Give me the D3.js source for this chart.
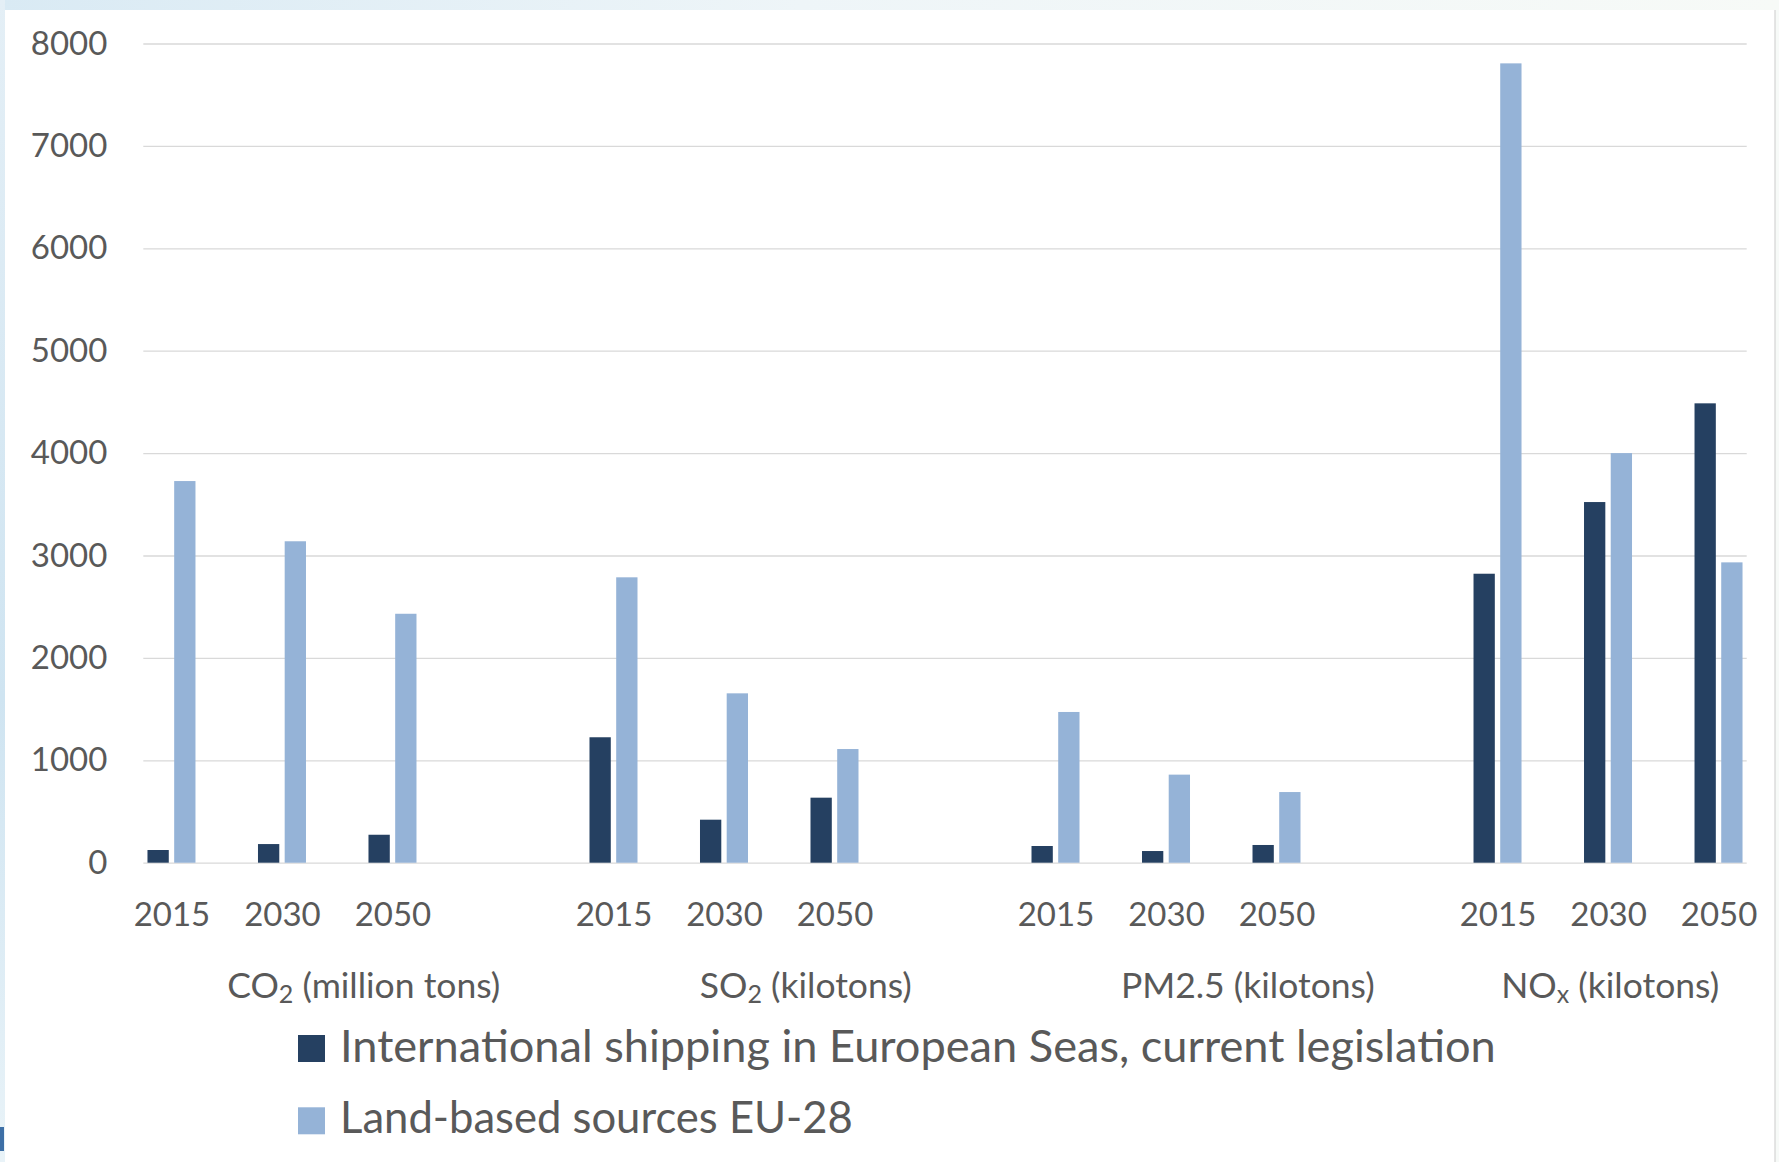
<!DOCTYPE html>
<html>
<head>
<meta charset="utf-8">
<script src="https://cdn.jsdelivr.net/npm/d3@7"></script>
<style>
  body { margin: 0; background: #ffffff; }
  svg { display: block; }
  text { font-family: Lato, "Open Sans", sans-serif; fill: #595959; }
</style>
</head>
<body>
<svg id="chart" width="1779" height="1162"></svg>
<script>
// Emission categories and projection years
const groups = ["CO2", "SO2", "PM2.5", "NOx"];
const groupLabels = ["CO_{2} (million tons)", "SO_{2} (kilotons)", "PM2.5 (kilotons)", "NO_{x} (kilotons)"];
const years = ["2015", "2030", "2050"];

// Values ordered group by group, year by year
const shipping = [124, 182, 273, 1225, 420, 635, 163, 114, 173, 2822, 3522, 4486];
const landBased = [3727, 3139, 2431, 2787, 1654, 1110, 1472, 860, 690, 7806, 4000, 2933];

const seriesNames = [
  "International shipping in European Seas, current legislation",
  "Land-based sources EU-28"
];
const seriesColors = ["#254061", "#95B3D7"];
const yTicks = [0, 1000, 2000, 3000, 4000, 5000, 6000, 7000, 8000];

const svg = d3.select("#chart");

// Slide backdrop edges
const defs = svg.append("defs");
const topGrad = defs.append("linearGradient").attr("id", "topGrad");
topGrad.append("stop").attr("offset", "0%").attr("stop-color", "#d9eaf4");
topGrad.append("stop").attr("offset", "45%").attr("stop-color", "#eef5f8");
topGrad.append("stop").attr("offset", "100%").attr("stop-color", "#f7faf7");
const leftGrad = defs.append("linearGradient").attr("id", "leftGrad")
  .attr("x1", 0).attr("y1", 0).attr("x2", 0).attr("y2", 1);
leftGrad.append("stop").attr("offset", "0%").attr("stop-color", "#e4eff6");
leftGrad.append("stop").attr("offset", "60%").attr("stop-color", "#cfe4f1");
leftGrad.append("stop").attr("offset", "100%").attr("stop-color", "#e9f3f8");

svg.append("rect").attr("x", 0).attr("y", 0).attr("width", 1779).attr("height", 10).attr("fill", "url(#topGrad)");
svg.append("rect").attr("x", 0).attr("y", 0).attr("width", 5).attr("height", 1162).attr("fill", "url(#leftGrad)");
svg.append("rect").attr("x", 0).attr("y", 1127).attr("width", 4).attr("height", 24).attr("fill", "#3d6fa6");
svg.append("rect").attr("x", 1775).attr("y", 10).attr("width", 4).attr("height", 1152).attr("fill", "#f7faf8");
svg.append("line").attr("x1", 1775).attr("x2", 1775).attr("y1", 10).attr("y2", 1162)
  .attr("stroke", "#d4d4d4").attr("stroke-width", 1.2);

// Category slots: three years per group, with an empty slot between groups
const slots = [];
groups.forEach((g, gi) => {
  years.forEach(yr => slots.push(g + "|" + yr));
  if (gi < groups.length - 1) slots.push(g + "|gap");
});

const plotLeft = 143.3, plotRight = 1746.7, plotBottom = 862.7, plotTop = 43.5;

const x = d3.scalePoint().domain(slots).range([plotLeft, plotRight]).padding(0.255);
const y = d3.scaleLinear().domain([0, 8000]).range([plotBottom, plotTop]);

// Value axis with gridlines
const yAxis = svg.append("g")
  .attr("transform", `translate(${plotLeft},0)`)
  .call(d3.axisLeft(y).tickValues(yTicks).tickFormat(d3.format("d"))
    .tickSize(-(plotRight - plotLeft)).tickPadding(36));
yAxis.select(".domain").remove();
yAxis.selectAll(".tick line").attr("stroke", "#d9d9d9").attr("stroke-width", 1.3);
yAxis.selectAll(".tick text").attr("font-size", 33).attr("fill", "#595959")
  .style("font-family", "Lato, sans-serif");

// Category axis (year labels)
const yearSlots = slots.filter(s => !s.endsWith("|gap"));
const xAxis = svg.append("g")
  .attr("transform", `translate(0,${plotBottom})`)
  .call(d3.axisBottom(x).tickValues(yearSlots).tickFormat(d => d.split("|")[1])
    .tickSize(0).tickPadding(40));
xAxis.select(".domain").remove();
xAxis.selectAll(".tick text").attr("font-size", 33).attr("fill", "#595959")
  .style("font-family", "Lato, sans-serif");

// Bars
const rows = [];
groups.forEach((g, gi) => years.forEach((yr, yi) => {
  const i = gi * years.length + yi;
  rows.push({ slot: g + "|" + yr, ship: shipping[i], land: landBased[i] });
}));
const barW = 21.3;
const bars = svg.append("g");
bars.selectAll("rect.ship").data(rows).join("rect")
  .attr("class", "ship")
  .attr("x", d => x(d.slot) - 24)
  .attr("y", d => y(d.ship))
  .attr("width", barW)
  .attr("height", d => y(0) - y(d.ship))
  .attr("fill", seriesColors[0]);
bars.selectAll("rect.land").data(rows).join("rect")
  .attr("class", "land")
  .attr("x", d => x(d.slot) + 2.7)
  .attr("y", d => y(d.land))
  .attr("width", barW)
  .attr("height", d => y(0) - y(d.land))
  .attr("fill", seriesColors[1]);

// Group labels, with subscripts written as _{...}
const labelShift = [0.74, 0.74, 0.74, 0.02];
const step = x.step();
groupLabels.forEach((lab, gi) => {
  const cx = x(groups[gi] + "|2030") + labelShift[gi] * step;
  const t = svg.append("text").attr("x", cx).attr("y", 998)
    .attr("text-anchor", "middle").attr("font-size", 35.5);
  const parts = lab.split(/(_\{[^}]*\})/).filter(p => p.length);
  parts.forEach(p => {
    if (p.startsWith("_{")) {
      t.append("tspan").text(p.slice(2, -1)).attr("font-size", 25).attr("dy", 5);
    } else {
      const sp = t.append("tspan").text(p);
      if (t.selectAll("tspan").size() > 1) sp.attr("dy", -5);
    }
  });
});

// Legend
const legendRows = [
  { sq: 1035, base: 1062, width: 1156 },
  { sq: 1107.3, base: 1133, width: 513 }
];
seriesNames.forEach((name, i) => {
  svg.append("rect").attr("x", 298).attr("y", legendRows[i].sq)
    .attr("width", 27).attr("height", 27).attr("fill", seriesColors[i]);
  const t = svg.append("text").attr("x", 340).attr("y", legendRows[i].base)
    .attr("font-size", 44).text(name);
  // size each entry so it spans its measured width
  const len = t.node().getComputedTextLength();
  t.attr("font-size", 44 * legendRows[i].width / len);
});
</script>
</body>
</html>
